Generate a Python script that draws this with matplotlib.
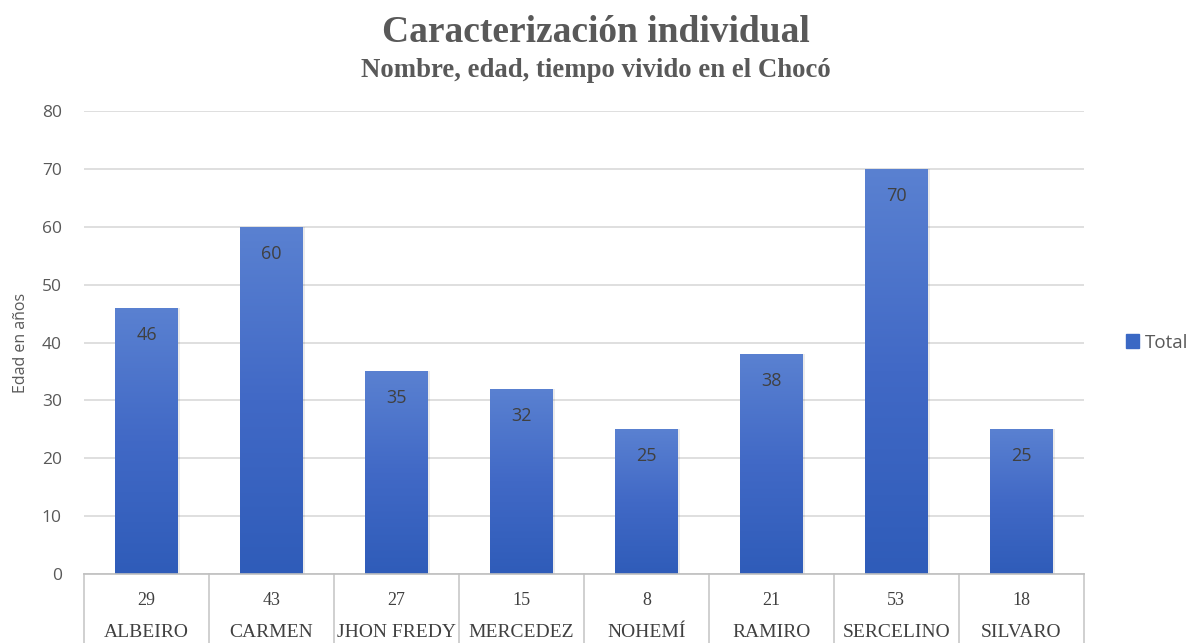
import numpy as np
import matplotlib.pyplot as plt
from matplotlib.lines import Line2D
from matplotlib.patches import Patch

nombres = ['ALBEIRO', 'CARMEN', 'JHON FREDY', 'MERCEDEZ', 'NOHEMÍ', 'RAMIRO', 'SERCELINO', 'SILVARO']
tiempo_choco = [29, 43, 27, 15, 8, 21, 53, 18]
edades = [46, 60, 35, 32, 25, 38, 70, 25]

gris = '#595959'
azul = '#3a68c4'

fig = plt.figure(figsize=(11.91, 6.43), dpi=100)
ax = fig.add_axes([0.0705, 0.1073, 0.8395, 0.7200])

x = np.arange(len(nombres))
ancho = 0.5

# barras con degradado vertical (claro arriba, oscuro abajo)
grad = np.linspace(0, 1, 256).reshape(-1, 1)
cmap = plt.matplotlib.colors.LinearSegmentedColormap.from_list('azules', ['#2f5cb9', '#4169c6', '#5a81d1'])
barras = ax.bar(x, edades, width=ancho, color=azul, zorder=2)
for b in barras:
    bx, by = b.get_x(), b.get_y()
    bw, bh = b.get_width(), b.get_height()
    # sombra suave
    ax.bar(bx + bw / 2 + 0.012, bh, width=bw + 0.02, color='#000000', alpha=0.08, zorder=1.5)
    im = ax.imshow(grad, extent=[bx, bx + bw, by, by + bh], origin='lower', aspect='auto',
                   cmap=cmap, zorder=2.1)
    im.set_clip_path(b)

for xi, v in zip(x, edades):
    ax.annotate(str(v), (xi, v), xytext=(0, -27), textcoords='offset pixels',
                ha='center', va='center', fontsize=13, color='#404040', family='Open Sans', zorder=3)

ax.set_xlim(-0.5, len(nombres) - 0.5)
ax.set_ylim(0, 80)
ax.set_yticks(range(0, 81, 10))
ax.yaxis.grid(True, color='#d9d9d9', lw=1.2, zorder=0)
ax.set_axisbelow(True)
ax.tick_params(axis='y', length=0, pad=16, labelsize=12.5, labelcolor=gris)
for t in ax.get_yticklabels():
    t.set_family('Open Sans')
ax.set_xticks([])
for s in ['top', 'right', 'left']:
    ax.spines[s].set_visible(False)
ax.spines['bottom'].set_color('#bfbfbf')
ax.spines['bottom'].set_linewidth(1.2)

ax.set_ylabel('Edad en años', fontsize=11.5, color=gris, family='Open Sans', labelpad=9)

# tabla de datos bajo el eje
trans = ax.get_xaxis_transform()
for i in range(len(nombres) + 1):
    ax.add_line(Line2D([i - 0.5, i - 0.5], [0, -0.2], transform=trans, color='#c8c8c8',
                       lw=1.2, clip_on=False))
for xi, t, n in zip(x, tiempo_choco, nombres):
    ax.text(xi, -0.058, str(t), transform=trans, ha='center', va='center',
            fontsize=13, color='#404040', family='Liberation Serif')
    ax.text(xi, -0.127, n, transform=trans, ha='center', va='center',
            fontsize=14, color='#404040', family='Liberation Serif')

fig.text(0.5, 0.95, 'Caracterización individual', ha='center', va='center',
         fontsize=27, fontweight='bold', color=gris, family='Liberation Serif')
fig.text(0.5, 0.89, 'Nombre, edad, tiempo vivido en el Chocó', ha='center', va='center',
         fontsize=19.3, fontweight='bold', color=gris, family='Liberation Serif')

ax.legend(handles=[Patch(color=azul, label='Total')], loc='center left',
          bbox_to_anchor=(1.025, 0.5), frameon=False, handlelength=0.7, handleheight=0.7,
          handletextpad=0.35, prop={'family': 'Open Sans', 'size': 13.5}, labelcolor=gris)

fig.savefig('out.png', dpi=100)
